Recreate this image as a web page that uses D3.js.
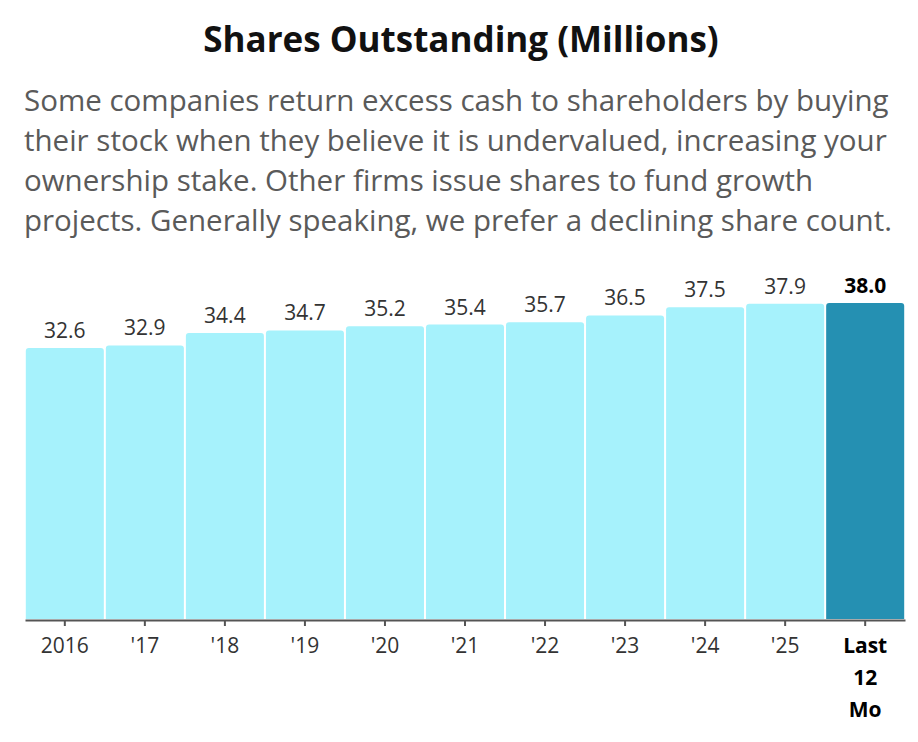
<!DOCTYPE html>
<html><head><meta charset="utf-8">
<script src="https://cdn.jsdelivr.net/npm/d3@7"></script>
<style>body{margin:0;background:#fff;font-family:"Open Sans",sans-serif;}</style>
</head><body><svg id="c" width="918" height="742"></svg>
<script>
const categories=["2016","'17","'18","'19","'20","'21","'22","'23","'24","'25","Last 12 Mo"];
const values=[32.6,32.9,34.4,34.7,35.2,35.4,35.7,36.5,37.5,37.9,38.0];
const title="Shares Outstanding (Millions)";
const subtitle=["Some companies return excess cash to shareholders by buying","their stock when they believe it is undervalued, increasing your","ownership stake. Other firms issue shares to fund growth","projects. Generally speaking, we prefer a declining share count."];
const svg=d3.select("#c");
svg.append("text").attr("x",461).attr("y",52).attr("text-anchor","middle").attr("font-size",35).attr("font-weight",700).attr("fill","#111").text(title);
svg.selectAll(".sub").data(subtitle).join("text").attr("x",24).attr("y",(d,i)=>111+i*40).attr("font-size",29.5).attr("fill","#5a5a5a").text(d=>d);
const base=619;
const x=d3.scaleBand().domain(categories).range([25,905]).paddingInner(0.025).paddingOuter(0.01);
const y=d3.scaleLinear().domain([0,38]).range([base,303]);
const r=3;
svg.selectAll(".bar").data(values).join("path")
 .attr("fill",(d,i)=>i===values.length-1?"#2590b2":"#a6f2fc")
 .attr("d",(d,i)=>{const x0=x(categories[i]),w=x.bandwidth(),t=y(d);
   return `M${x0},${base}V${t+r}Q${x0},${t} ${x0+r},${t}H${x0+w-r}Q${x0+w},${t} ${x0+w},${t+r}V${base}Z`;});
svg.selectAll(".lbl").data(values).join("text")
 .attr("x",(d,i)=>x(categories[i])+x.bandwidth()/2).attr("y",d=>y(d)-10)
 .attr("text-anchor","middle").attr("font-size",21)
 .attr("font-weight",(d,i)=>i===values.length-1?700:400)
 .attr("fill",(d,i)=>i===values.length-1?"#000":"#333")
 .text(d=>d.toFixed(1));
const ax=svg.append("g").attr("transform",`translate(0,${base+1})`).call(d3.axisBottom(x).tickSize(6).tickSizeOuter(0).tickFormat(""));
ax.select(".domain").attr("stroke","#555").attr("stroke-width",2);
ax.selectAll(".tick line").attr("stroke","#555").attr("stroke-width",2);
categories.forEach((c,i)=>{
  const cx=x(c)+x.bandwidth()/2;
  const last=i===categories.length-1;
  const lines=last?["Last","12","Mo"]:[c];
  lines.forEach((l,j)=>svg.append("text").attr("x",cx).attr("y",653+j*32).attr("text-anchor","middle")
   .attr("font-size",21).attr("font-weight",last?700:400).attr("fill",last?"#000":"#333").text(l));
});
</script></body></html>
